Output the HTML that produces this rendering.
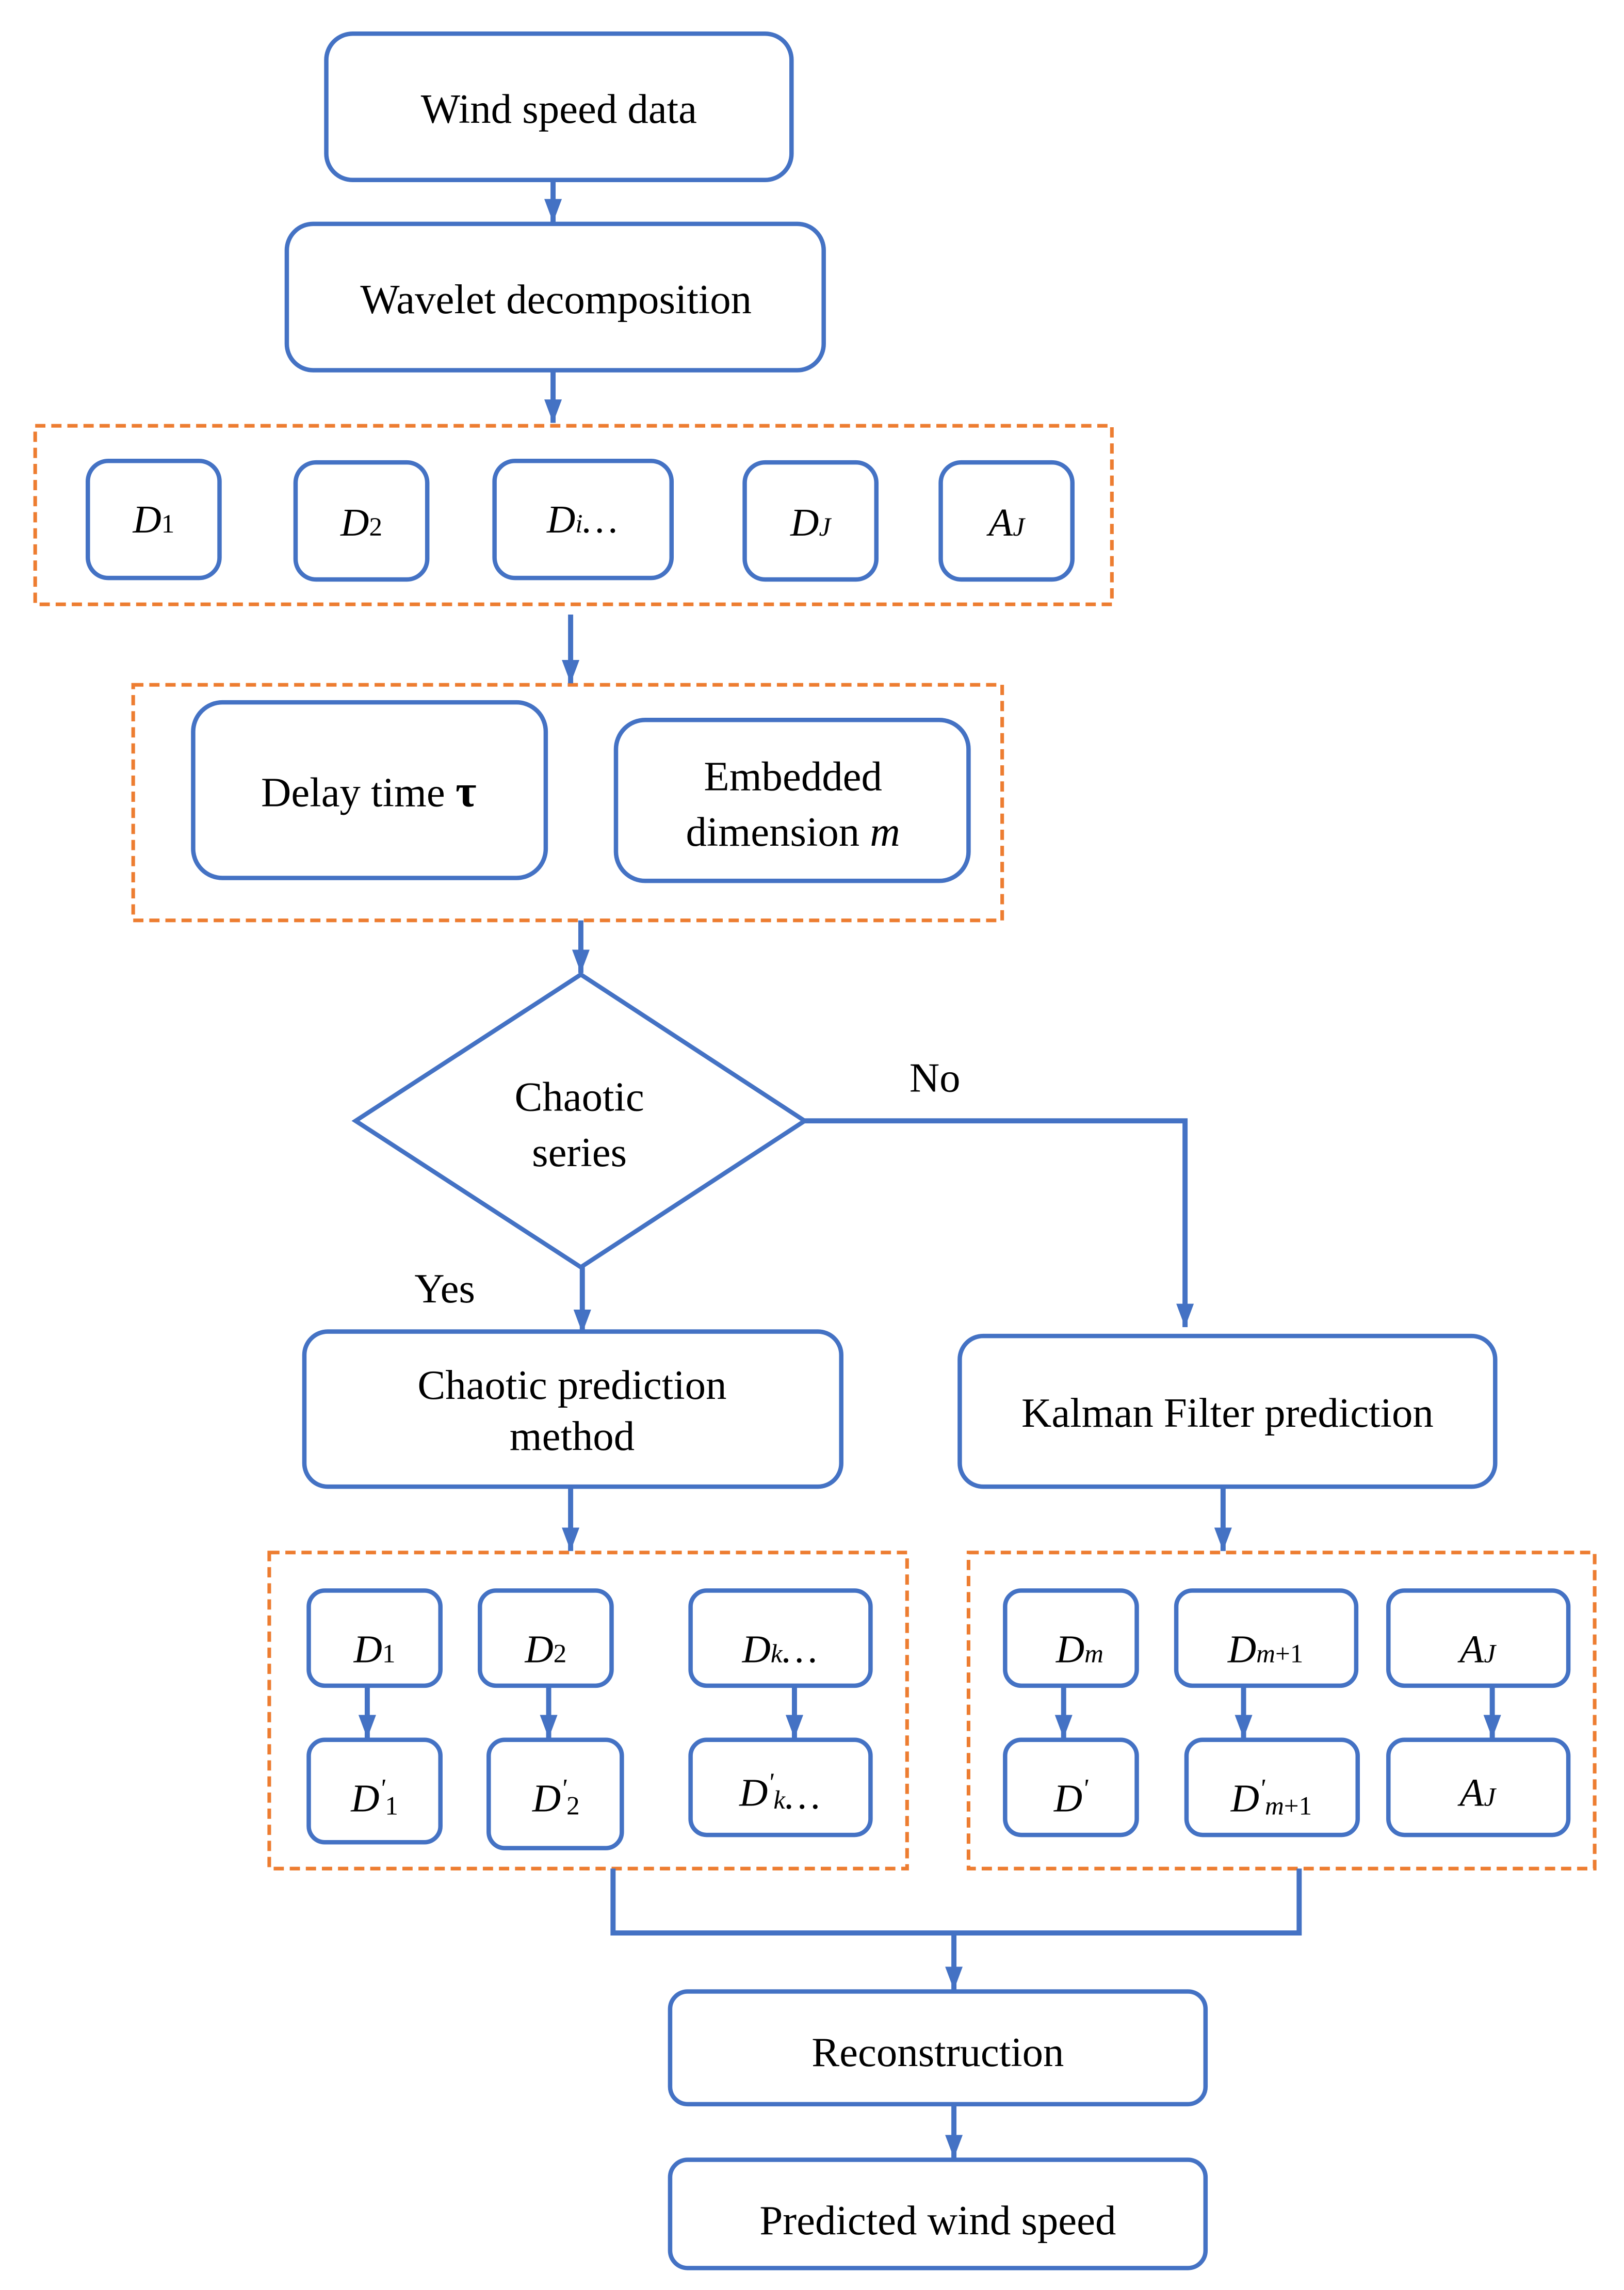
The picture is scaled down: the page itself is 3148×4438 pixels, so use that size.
<!DOCTYPE html>
<html><head><meta charset="utf-8"><style>html,body{margin:0;padding:0;background:#fff}svg{display:block}</style></head>
<body>
<svg width="3148" height="4438" viewBox="0 0 1110 1565" xmlns="http://www.w3.org/2000/svg" font-family="'Liberation Serif', serif" fill="#000">
<defs>
<marker id="a" markerWidth="16" markerHeight="12" refX="16" refY="6" orient="auto" markerUnits="userSpaceOnUse" viewBox="0 0 16 12">
<path d="M0,0 L16,6 L0,12 Z" fill="#4472C4"/></marker>
</defs>
<g fill="none" stroke="#ED7D31" stroke-width="2.5" stroke-dasharray="7,4">
<rect x="24" y="291" width="736" height="122"/>
<rect x="91" y="468" width="594" height="161"/>
<rect x="184" y="1061" width="436" height="216"/>
<rect x="662" y="1061" width="428" height="216"/>
</g>
<g fill="#fff" stroke="#4472C4" stroke-width="3">
<rect x="223" y="23" width="318" height="100" rx="18"/>
<rect x="196" y="153" width="367" height="100" rx="18"/>
<rect x="60" y="315" width="90" height="80" rx="14"/>
<rect x="202" y="316" width="90" height="80" rx="14"/>
<rect x="338" y="315" width="121" height="80" rx="14"/>
<rect x="509" y="316" width="90" height="80" rx="14"/>
<rect x="643" y="316" width="90" height="80" rx="14"/>
<rect x="132" y="480" width="241" height="120" rx="20"/>
<rect x="421" y="492" width="241" height="110" rx="20"/>
<polygon points="397,666 550,766 397,866 243,766"/>
<rect x="208" y="910" width="367" height="106" rx="16"/>
<rect x="656" y="913" width="366" height="103" rx="16"/>
<rect x="211" y="1087" width="90" height="65" rx="11"/>
<rect x="211" y="1189" width="90" height="70" rx="11"/>
<rect x="328" y="1087" width="90" height="65" rx="11"/>
<rect x="334" y="1189" width="91" height="74" rx="11"/>
<rect x="472" y="1087" width="123" height="65" rx="11"/>
<rect x="472" y="1189" width="123" height="65" rx="11"/>
<rect x="687" y="1087" width="90" height="65" rx="11"/>
<rect x="687" y="1189" width="90" height="65" rx="11"/>
<rect x="804" y="1087" width="123" height="65" rx="11"/>
<rect x="811" y="1189" width="117" height="65" rx="11"/>
<rect x="949" y="1087" width="123" height="65" rx="11"/>
<rect x="949" y="1189" width="123" height="65" rx="11"/>
<rect x="458" y="1361" width="366" height="77" rx="12"/>
<rect x="458" y="1476" width="366" height="74" rx="12"/>
</g>
<g stroke="#4472C4" stroke-width="3.5" fill="none">
<line x1="378" y1="123" x2="378" y2="152" marker-end="url(#a)"/>
<line x1="378" y1="253" x2="378" y2="289" marker-end="url(#a)"/>
<line x1="390" y1="420" x2="390" y2="467" marker-end="url(#a)"/>
<line x1="397" y1="629" x2="397" y2="665" marker-end="url(#a)"/>
<polyline points="550,766 810,766 810,907" marker-end="url(#a)"/>
<line x1="398" y1="866" x2="398" y2="911" marker-end="url(#a)"/>
<line x1="390" y1="1016" x2="390" y2="1060" marker-end="url(#a)"/>
<line x1="836" y1="1016" x2="836" y2="1060" marker-end="url(#a)"/>
<line x1="251" y1="1152" x2="251" y2="1188" marker-end="url(#a)"/>
<line x1="375" y1="1152" x2="375" y2="1188" marker-end="url(#a)"/>
<line x1="543" y1="1152" x2="543" y2="1188" marker-end="url(#a)"/>
<line x1="727" y1="1152" x2="727" y2="1188" marker-end="url(#a)"/>
<line x1="850" y1="1152" x2="850" y2="1188" marker-end="url(#a)"/>
<line x1="1020" y1="1152" x2="1020" y2="1188" marker-end="url(#a)"/>
<polyline points="419,1277 419,1321 888,1321 888,1277"/>
<line x1="652" y1="1321" x2="652" y2="1360" marker-end="url(#a)"/>
<line x1="652" y1="1438" x2="652" y2="1475" marker-end="url(#a)"/>
</g>
<g font-size="28.5" text-anchor="middle">
<text x="382" y="84">Wind speed data</text>
<text x="380" y="214">Wavelet decomposition</text>
<text x="252" y="551">Delay time <tspan font-weight="bold" font-size="31">τ</tspan></text>
<text x="542" y="540">Embedded</text>
<text x="542" y="578">dimension <tspan font-style="italic">m</tspan></text>
<text x="396" y="759">Chaotic</text>
<text x="396" y="797">series</text>
<text x="639" y="746">No</text>
<text x="304" y="890">Yes</text>
<text x="391" y="956">Chaotic prediction</text>
<text x="391" y="991">method</text>
<text x="839" y="975">Kalman Filter prediction</text>
<text x="641" y="1412">Reconstruction</text>
<text x="641" y="1527">Predicted wind speed</text>
</g>
<g font-size="27" text-anchor="middle" font-style="italic">
<text x="105" y="364">D<tspan font-size="18" font-style="normal">1</tspan></text>
<text x="247" y="366">D<tspan font-size="18" font-style="normal">2</tspan></text>
<text x="398" y="364">D<tspan font-size="18">i</tspan>…</text>
<text x="554" y="366">D<tspan font-size="18">J</tspan></text>
<text x="688" y="366">A<tspan font-size="18">J</tspan></text>
<text x="256" y="1136">D<tspan font-size="18" font-style="normal">1</tspan></text>
<text x="373" y="1136">D<tspan font-size="18" font-style="normal">2</tspan></text>
<text x="533" y="1136">D<tspan font-size="18">k</tspan>…</text>
<text x="256" y="1238">D<tspan font-size="18" dy="-10">'</tspan><tspan font-size="18" font-style="normal" dy="12">1</tspan></text>
<text x="380" y="1238">D<tspan font-size="18" dy="-10">'</tspan><tspan font-size="18" font-style="normal" dy="12">2</tspan></text>
<text x="533" y="1234">D<tspan font-size="18" dy="-10">'</tspan><tspan font-size="18" dy="12">k</tspan>…</text>
<text x="738" y="1136">D<tspan font-size="18">m</tspan></text>
<text x="865" y="1136">D<tspan font-size="18">m</tspan><tspan font-size="18" font-style="normal">+1</tspan></text>
<text x="1010" y="1136">A<tspan font-size="18">J</tspan></text>
<text x="732" y="1238">D<tspan font-size="18" dy="-10">'</tspan></text>
<text x="869" y="1238">D<tspan font-size="18" dy="-10">'</tspan><tspan font-size="18" dy="12">m</tspan><tspan font-size="18" font-style="normal">+1</tspan></text>
<text x="1010" y="1234">A<tspan font-size="18">J</tspan></text>
</g>
</svg>
</body></html>
